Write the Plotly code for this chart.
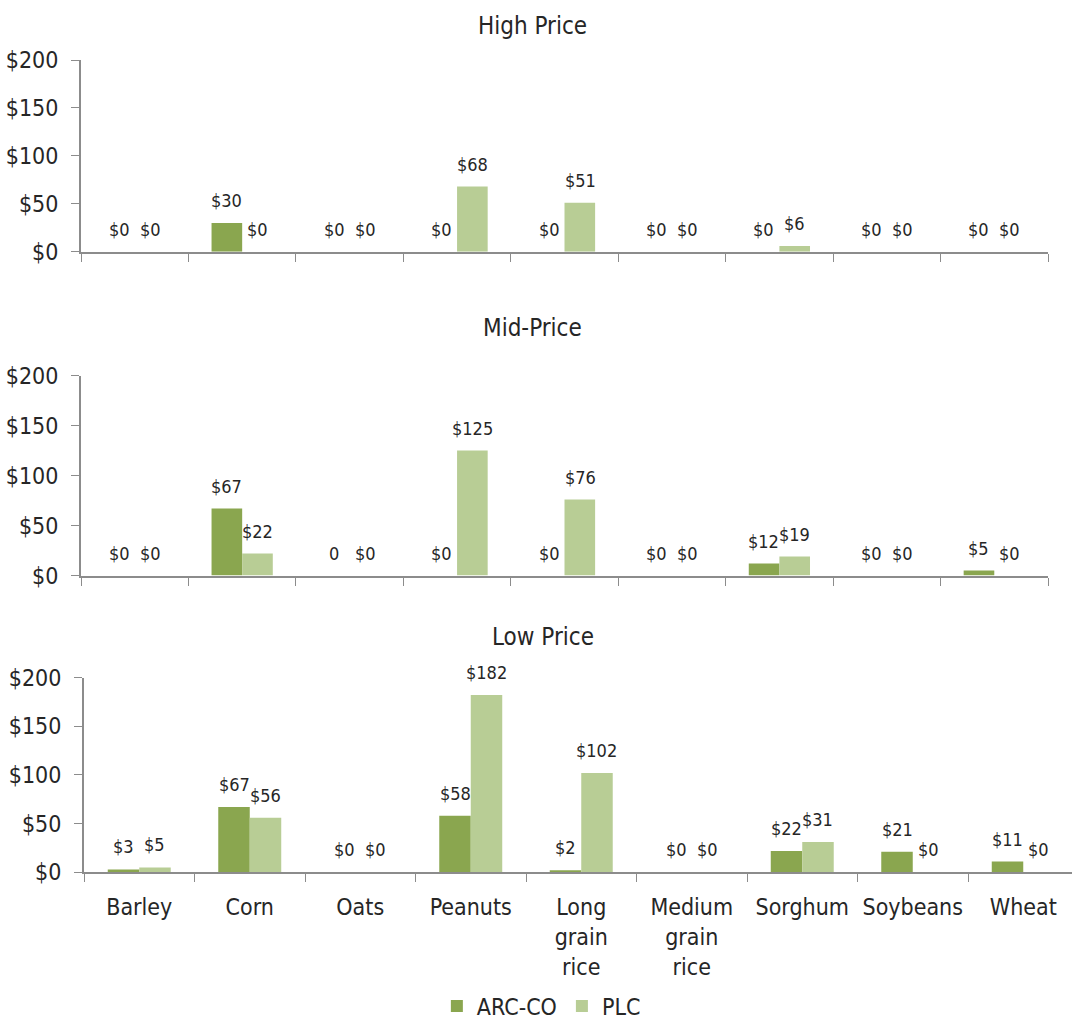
import plotly.graph_objects as go

categories = ["Barley", "Corn", "Oats", "Peanuts", "Long<br>grain<br>rice",
              "Medium<br>grain<br>rice", "Sorghum", "Soybeans", "Wheat"]

high_arc = [0, 30, 0, 0, 0, 0, 0, 0, 0]
high_plc = [0, 0, 0, 68, 51, 0, 6, 0, 0]
mid_arc = [0, 67, 0, 0, 0, 0, 12, 0, 5]
mid_plc = [0, 22, 0, 125, 76, 0, 19, 0, 0]
low_arc = [3, 67, 0, 58, 2, 0, 22, 21, 11]
low_plc = [5, 56, 0, 182, 102, 0, 31, 0, 0]

# label text overrides (the reference shows "0" without a $ sign here)
mid_arc_labels = ["$0", "$67", "0", "$0", "$0", "$0", "$12", "$0", "$5"]

panel_titles = ["High Price", "Mid-Price", "Low Price"]
series_names = ["ARC-CO", "PLC"]
y_ticks = [0, 50, 100, 150, 200]
y_tick_text = ["$0", "$50", "$100", "$150", "$200"]

ARC_COLOR = "#8aa64f"
PLC_COLOR = "#b8cd95"
AXIS_COLOR = "#8c8c8c"
TEXT_COLOR = "#262626"
FONT = "DejaVu Sans Condensed, Liberation Sans Narrow, Arial Narrow, sans-serif"

W, H = 1072, 1022

def px_x(p):
    return p / W

def px_y(p):
    return 1 - p / H

panels = [
    dict(arc=high_arc, plc=high_plc, arc_lab=None, x=(81, 1048), y=(60, 251.7), ax="", xr=[-0.5, 8.5]),
    dict(arc=mid_arc, plc=mid_plc, arc_lab=mid_arc_labels, x=(81, 1048), y=(375.7, 575.5), ax="2", xr=[-0.5, 8.5]),
    dict(arc=low_arc, plc=low_plc, arc_lab=None, x=(84, 1072), y=(677.6, 872.3), ax="3",
         xr=[-0.5, -0.5 + (1072 - 84) / 110.5]),
]

fig = go.Figure()
annotations = []

for i, p in enumerate(panels):
    xa = "x" + p["ax"]
    ya = "y" + p["ax"]
    fig.add_trace(go.Bar(x=categories, y=p["arc"], name=series_names[0], marker_color=ARC_COLOR,
                         marker_line_width=0, xaxis=xa, yaxis=ya, showlegend=(i == 0),
                         legendgroup="arc"))
    fig.add_trace(go.Bar(x=categories, y=p["plc"], name=series_names[1], marker_color=PLC_COLOR,
                         marker_line_width=0, xaxis=xa, yaxis=ya, showlegend=(i == 0),
                         legendgroup="plc"))
    arc_labels = p["arc_lab"] or [f"${v}" for v in p["arc"]]
    plc_labels = [f"${v}" for v in p["plc"]]
    for c, v, t in zip(categories, p["arc"], arc_labels):
        annotations.append(dict(x=c, y=v, xref=xa, yref=ya, text=t, showarrow=False,
                                xshift=-15.5, yshift=10, yanchor="bottom",
                                font=dict(size=18, color=TEXT_COLOR, family=FONT)))
    for c, v, t in zip(categories, p["plc"], plc_labels):
        annotations.append(dict(x=c, y=v, xref=xa, yref=ya, text=t, showarrow=False,
                                xshift=15.5, yshift=10, yanchor="bottom",
                                font=dict(size=18, color=TEXT_COLOR, family=FONT)))

    xaxis = dict(domain=[px_x(p["x"][0]), px_x(p["x"][1])], anchor=ya, range=p["xr"],
                 showline=True, linecolor=AXIS_COLOR, linewidth=2,
                 ticks="outside", tickson="boundaries", ticklen=8, tickcolor=AXIS_COLOR, tickwidth=1,
                 showgrid=False, zeroline=False, showticklabels=(i == 2), tickangle=0,
                 automargin=False, ticklabelstandoff=13,
                 tickfont=dict(size=23, color=TEXT_COLOR, family=FONT), fixedrange=True)
    yaxis = dict(domain=[px_y(p["y"][1]), px_y(p["y"][0])], anchor=xa, range=[0, 200],
                 tickmode="array", tickvals=y_ticks, ticktext=y_tick_text,
                 showline=True, linecolor=AXIS_COLOR, linewidth=2,
                 ticks="outside", ticklen=8, tickcolor=AXIS_COLOR, tickwidth=1,
                 showgrid=False, zeroline=False, ticklabelstandoff=8, automargin=False,
                 tickfont=dict(size=23, color=TEXT_COLOR, family=FONT), fixedrange=True)
    fig.update_layout({"xaxis" + p["ax"]: xaxis, "yaxis" + p["ax"]: yaxis})

title_pos = [(532, 26), (532, 328), (543, 637)]
for t, (tx, ty) in zip(panel_titles, title_pos):
    annotations.append(dict(x=px_x(tx), y=px_y(ty), xref="paper", yref="paper", text=t,
                            showarrow=False, xanchor="center", yanchor="middle",
                            font=dict(size=24, color=TEXT_COLOR, family=FONT)))

fig.update_layout(
    width=W, height=H, margin=dict(l=0, r=0, t=0, b=0, autoexpand=False),
    paper_bgcolor="white", plot_bgcolor="white",
    barmode="group", bargap=0.43, bargroupgap=0,
    font=dict(family=FONT, color=TEXT_COLOR),
    annotations=annotations,
    legend=dict(orientation="h", x=0.505, xanchor="center", y=px_y(1006), yanchor="middle",
                font=dict(size=23, color=TEXT_COLOR, family=FONT),
                bgcolor="rgba(0,0,0,0)"),
)

fig.write_html("out.html")
